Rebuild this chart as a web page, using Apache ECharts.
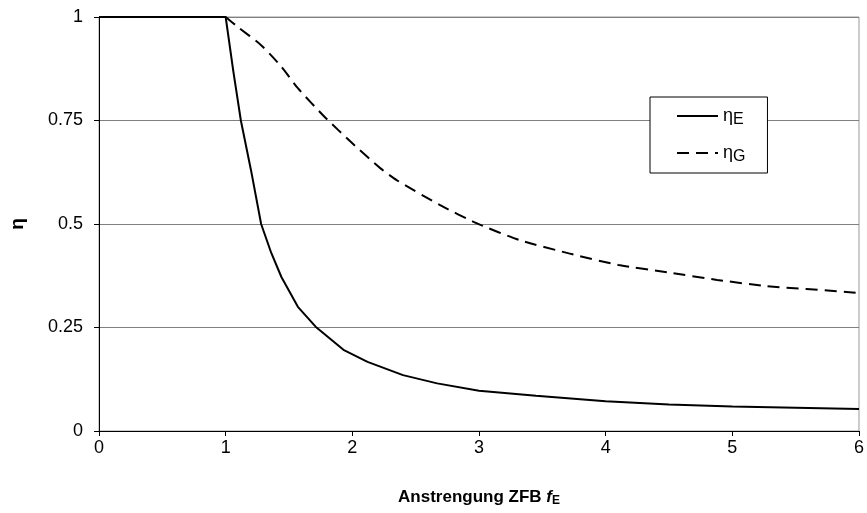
<!DOCTYPE html>
<html>
<head>
<meta charset="utf-8">
<script src="https://cdn.jsdelivr.net/npm/echarts@6/dist/echarts.min.js"></script>
<style>
    html, body { margin: 0; padding: 0; background: #fff; }
    #main { width: 867px; height: 513px; }
</style>
</head>
<body>
<div id="main"></div>
<script>
// Abminderungsfaktoren ueber der Anstrengung
var fE_E  = [0, 1, 1.06, 1.12, 1.2, 1.28, 1.36, 1.44, 1.57, 1.71, 1.93, 2.12, 2.4, 2.67, 3.0, 3.45, 4.0, 4.5, 5.0, 5.5, 6.0];
var etaE  = [1, 1, 0.87, 0.75, 0.63, 0.5, 0.43, 0.372, 0.30, 0.252, 0.196, 0.167, 0.135, 0.115, 0.097, 0.085, 0.072, 0.064, 0.059, 0.056, 0.053];
var fE_G  = [1.0, 1.1, 1.28, 1.44, 1.57, 1.78, 2.0, 2.22, 2.35, 2.69, 2.98, 3.32, 3.71, 4.1, 4.49, 4.88, 5.27, 5.9, 6.0];
var etaG  = [1, 0.975, 0.932, 0.88, 0.828, 0.759, 0.695, 0.635, 0.606, 0.546, 0.502, 0.461, 0.429, 0.401, 0.383, 0.365, 0.35, 0.336, 0.333];
var yTicks = [0, 0.25, 0.5, 0.75, 1];

function pairs(xs, ys) {
    return xs.map(function (x, i) { return [x, ys[i]]; });
}

var font = 'Liberation Sans, Arial, sans-serif';
var chart = echarts.init(document.getElementById('main'));

var option = {
    animation: false,
    backgroundColor: '#fff',
    textStyle: { fontFamily: font },
    grid: {
        left: 96, right: 4, top: 17, bottom: 82,
        show: true, borderColor: '#999', borderWidth: 1, backgroundColor: '#fff'
    },
    legend: {
        orient: 'vertical',
        left: 650, top: 97,
        backgroundColor: '#fff',
        borderColor: '#000', borderWidth: 1, borderRadius: 0,
        padding: [10, 22, 8, 26],
        itemWidth: 41, itemHeight: 14, itemGap: 16,
        itemStyle: { opacity: 0 },
        data: ['E', 'G'],
        formatter: function (name) { return '{n|η}{s|' + name + '}'; },
        textStyle: {
            color: '#000', fontFamily: font,
            rich: {
                n: { fontSize: 18, fontFamily: font, color: '#000' },
                s: { fontSize: 16, fontFamily: font, color: '#000', verticalAlign: 'bottom', padding: [8, 0, 0, 0] }
            }
        }
    },
    xAxis: {
        type: 'value', min: 0, max: 6, interval: 1,
        name: '{a|Anstrengung ZFB }{f|f}{s|E}',
        nameLocation: 'middle', nameGap: 56,
        nameTextStyle: {
            rich: {
                a: { fontSize: 17, fontWeight: 'bold', fontFamily: font, color: '#000' },
                f: { fontSize: 17, fontWeight: 'bold', fontStyle: 'italic', fontFamily: font, color: '#000' },
                s: { fontSize: 12, fontWeight: 'bold', fontFamily: font, color: '#000', verticalAlign: 'bottom', padding: [8, 0, 0, 0] }
            }
        },
        axisLine: { lineStyle: { color: '#000', width: 1 } },
        axisTick: { show: true, inside: false, length: 5, lineStyle: { color: '#000' } },
        axisLabel: { color: '#000', fontSize: 18, margin: 8, fontFamily: font },
        splitLine: { show: false }
    },
    yAxis: {
        type: 'value', min: yTicks[0], max: yTicks[yTicks.length - 1], interval: 0.25,
        name: 'η', nameLocation: 'middle', nameGap: 72, nameRotate: 90,
        nameTextStyle: { fontSize: 19, fontWeight: 'bold', color: '#000', fontFamily: font },
        axisLine: { show: true, lineStyle: { color: '#000', width: 1 } },
        axisTick: { show: true, inside: false, length: 5, lineStyle: { color: '#000' } },
        axisLabel: { color: '#000', fontSize: 18, margin: 16, fontFamily: font },
        splitLine: { show: true, lineStyle: { color: '#808080', width: 1 } }
    },
    series: [
        {
            name: 'E', type: 'line', data: pairs(fE_E, etaE),
            symbol: 'none', smooth: false,
            lineStyle: { color: '#000', width: 2, type: 'solid' },
            itemStyle: { color: '#000' }, z: 3
        },
        {
            name: 'G', type: 'line', data: pairs(fE_G, etaG),
            symbol: 'none', smooth: 0.2,
            lineStyle: { color: '#000', width: 2, type: [12, 7] },
            itemStyle: { color: '#000' }, z: 2
        }
    ]
};
chart.setOption(option);
</script>
</body>
</html>
